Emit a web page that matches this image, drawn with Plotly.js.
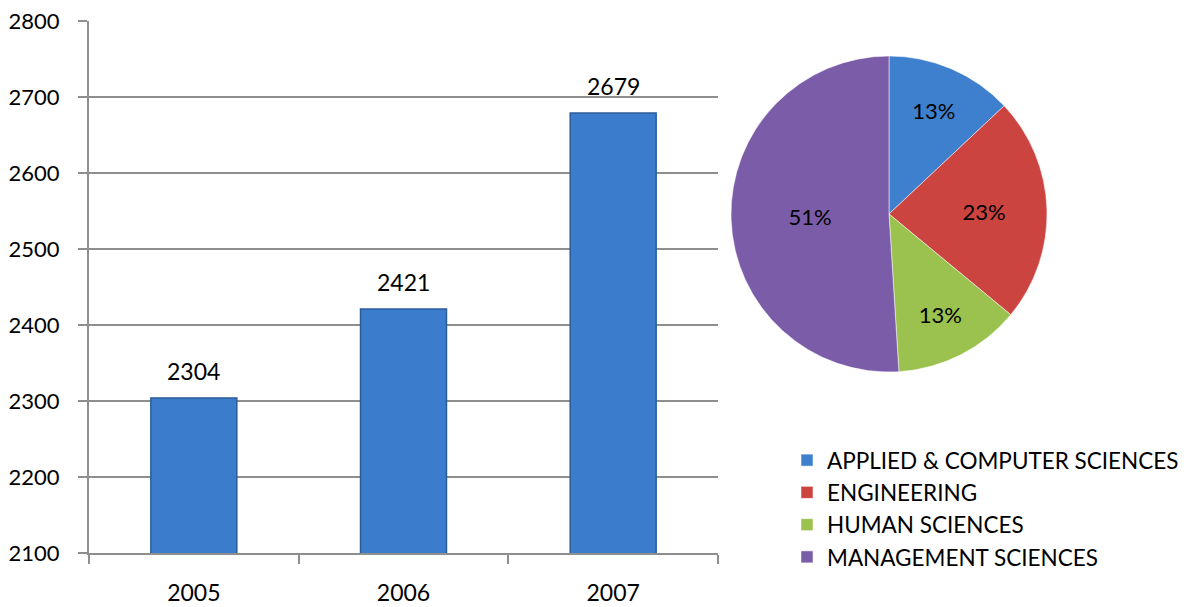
<!DOCTYPE html>
<html>
<head>
<meta charset="utf-8">
<script src="https://cdn.plot.ly/plotly-3.0.1.min.js"></script>
<style>html,body{margin:0;padding:0;background:#fff;}#chart{width:1191px;height:607px;}</style>
</head>
<body>
<div id="chart"></div>
<script>
// Bar data
const years = ['2005', '2006', '2007'];
const totals = [2304, 2421, 2679];

// Pie data
const schools = ['APPLIED & COMPUTER SCIENCES', 'ENGINEERING', 'HUMAN SCIENCES', 'MANAGEMENT SCIENCES'];
const shares = [13, 23, 13, 51];
const pieColors = ['#3F80CE', '#CC4440', '#9BC24E', '#7B5CA8'];

const W = 1191, H = 607;
const FONT = 'Lato, "Open Sans", sans-serif';

const bar = {
  type: 'bar',
  x: years,
  y: totals,
  width: 0.41,
  marker: {color: '#3C7CCC', line: {color: '#2B5C9A', width: 1.5}},
  showlegend: false,
  hoverinfo: 'x+y'
};

const pie = {
  type: 'pie',
  labels: schools,
  values: shares,
  sort: false,
  direction: 'clockwise',
  rotation: 0,
  marker: {colors: pieColors, line: {color: 'rgba(255,255,255,0.5)', width: 1}},
  texttemplate: '%{percent:.0%}',
  textposition: 'inside',
  insidetextorientation: 'horizontal',
  textfont: {family: FONT, size: 22, color: '#000'},
  domain: {x: [731 / W, 1047 / W], y: [1 - 372 / H, 1 - 56 / H]},
  showlegend: true
};

const annotations = years.map((yr, i) => ({
  x: i, y: totals[i], xref: 'x', yref: 'y',
  text: String(totals[i]), showarrow: false,
  yanchor: 'bottom', yshift: 11,
  font: {family: FONT, size: 23, color: '#000'}
}));

const layout = {
  width: W, height: H,
  margin: {l: 0, r: 0, t: 0, b: 0},
  paper_bgcolor: '#fff', plot_bgcolor: '#fff',
  font: {family: FONT, size: 23, color: '#000'},
  xaxis: {
    domain: [89 / W, 718 / W],
    type: 'category',
    range: [-0.5, 2.5],
    showgrid: false,
    showline: true, linecolor: '#8e8e8e', linewidth: 2,
    ticks: 'outside', tickson: 'boundaries', ticklen: 9, tickwidth: 2, tickcolor: '#8e8e8e',
    ticklabelstandoff: 18,
    tickangle: 0,
    tickfont: {family: FONT, size: 23, color: '#000'},
    fixedrange: true
  },
  yaxis: {
    domain: [1 - 553 / H, 1 - 21 / H],
    range: [2100, 2800],
    dtick: 100,
    showgrid: true, gridcolor: '#8e8e8e', gridwidth: 2,
    showline: true, linecolor: '#8e8e8e', linewidth: 2,
    ticks: 'outside', ticklen: 9, tickwidth: 2, tickcolor: '#8e8e8e',
    ticklabelstandoff: 14,
    zeroline: false,
    tickfont: {family: FONT, size: 22, color: '#000'},
    fixedrange: true
  },
  legend: {
    x: 787 / W, y: 1 - 439 / H, xanchor: 'left', yanchor: 'top',
    font: {family: FONT, size: 22.5, color: '#000'},
    bgcolor: 'rgba(0,0,0,0)', itemclick: false, itemdoubleclick: false
  },
  annotations: annotations
};

Plotly.newPlot('chart', [bar, pie], layout, {displayModeBar: false, staticPlot: true});
</script>
</body>
</html>
